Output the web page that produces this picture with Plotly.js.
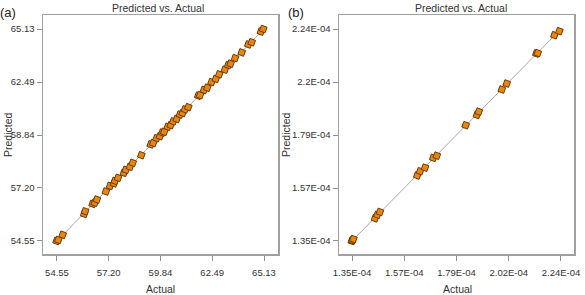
<!DOCTYPE html>
<html>
<head>
<meta charset="utf-8">
<script src="https://cdn.plot.ly/plotly-3.0.1.min.js"></script>
<style>
  html, body { margin: 0; padding: 0; background: #fff; }
  #chart { width: 585px; height: 295px; }
</style>
</head>
<body>
<div id="chart"></div>
<script>
// Panel (a): actual vs predicted response
const actualA = [54.53, 54.62, 54.84, 55.94, 55.99, 56.37, 56.48, 56.59, 57.05, 57.26,
                 57.46, 57.51, 57.67, 57.97, 58.07, 58.28, 58.42, 58.86, 59.34, 59.47,
                 59.64, 59.81, 59.93, 60.03, 60.21, 60.36, 60.49, 60.67, 60.83, 60.97,
                 61.09, 61.26, 61.77, 61.86, 62.06, 62.23, 62.45, 62.67, 62.84, 63.13,
                 63.30, 63.42, 63.65, 63.99, 64.33, 64.50, 64.97, 65.09];
const predictedA = [54.55, 54.60, 54.86, 55.90, 56.03, 56.40, 56.46, 56.62, 57.02, 57.30,
                    57.42, 57.55, 57.70, 57.95, 58.10, 58.25, 58.45, 58.83, 59.37, 59.44,
                    59.68, 59.78, 59.96, 60.00, 60.25, 60.33, 60.52, 60.64, 60.86, 60.94,
                    61.12, 61.23, 61.80, 61.83, 62.09, 62.20, 62.48, 62.64, 62.87, 63.10,
                    63.33, 63.40, 63.68, 63.96, 64.36, 64.47, 65.00, 65.13];
const ticksA = [54.55, 57.195, 59.84, 62.485, 65.13];
const tickTextAx = ["54.55", "57.20", "59.84", "62.49", "65.13"];
const tickTextAy = ["54.55", "57.20", "58.84", "62.49", "65.13"];
const lineA = [54.55, 65.13];

// Panel (b)
const actualB = [1.349e-4, 1.352e-4, 1.356e-4, 1.448e-4, 1.458e-4, 1.469e-4, 1.628e-4,
                 1.640e-4, 1.661e-4, 1.696e-4, 1.711e-4, 1.834e-4, 1.882e-4, 1.890e-4,
                 1.988e-4, 2.009e-4, 2.135e-4, 2.141e-4, 2.212e-4, 2.233e-4];
const predictedB = [1.350e-4, 1.353e-4, 1.358e-4, 1.445e-4, 1.460e-4, 1.472e-4, 1.625e-4,
                    1.643e-4, 1.658e-4, 1.699e-4, 1.708e-4, 1.836e-4, 1.879e-4, 1.893e-4,
                    1.986e-4, 2.011e-4, 2.137e-4, 2.139e-4, 2.214e-4, 2.231e-4];
const ticksB = [1.35e-4, 1.5725e-4, 1.795e-4, 2.0175e-4, 2.24e-4];
const tickTextBx = ["1.35E-04", "1.57E-04", "1.79E-04", "2.02E-04", "2.24E-04"];
const tickTextBy = ["1.35E-04", "1.57E-04", "1.79E-04", "2.2E-04", "2.24E-04"];
const lineB = [1.35e-4, 2.24e-4];

const font = "Liberation Sans, Arial, sans-serif";
const markerStyle = {
  symbol: "square",
  size: 6,
  angle: 20,
  color: "#e8860f",
  line: { color: "#6b3a05", width: 1 }
};
const lineStyle = { color: "#a8a8a8", width: 1 };

const traces = [
  { x: lineA, y: lineA, mode: "lines", line: lineStyle, xaxis: "x", yaxis: "y", hoverinfo: "skip" },
  { x: actualA, y: predictedA, mode: "markers", marker: markerStyle, xaxis: "x", yaxis: "y" },
  { x: lineB, y: lineB, mode: "lines", line: lineStyle, xaxis: "x2", yaxis: "y2", hoverinfo: "skip" },
  { x: actualB, y: predictedB, mode: "markers", marker: markerStyle, xaxis: "x2", yaxis: "y2" }
];

function axis(domain, range, vals, text, anchor, standoff) {
  return {
    domain: domain, range: range, anchor: anchor,
    tickmode: "array", tickvals: vals, ticktext: text,
    ticks: "outside", ticklen: 5, tickcolor: "#909090", tickwidth: 1,
    ticklabelstandoff: standoff,
    showgrid: false, zeroline: false,
    showline: true, mirror: true, linecolor: "#a0a0a0", linewidth: 1.5,
    tickfont: { family: font, size: 9.5, color: "#333" }
  };
}

const yDom = [1 - 254 / 295, 1 - 15 / 295];
const titleFont = { family: font, size: 10.5, color: "#333" };
const layout = {
  width: 585, height: 295,
  margin: { l: 0, r: 0, t: 0, b: 0 },
  paper_bgcolor: "#fff", plot_bgcolor: "#fff",
  showlegend: false,
  xaxis: axis([43 / 585, 278 / 585], [53.835, 65.845], ticksA, tickTextAx, "y", 4),
  yaxis: axis(yDom, [53.90, 65.83], ticksA, tickTextAy, "x", 0),
  xaxis2: axis([339 / 585, 574 / 585], [1.2946e-4, 2.2954e-4], ticksB, tickTextBx, "y2", 4),
  yaxis2: axis(yDom, [1.2954e-4, 2.2988e-4], ticksB, tickTextBy, "x2", 0),
  annotations: [
    { text: "Predicted vs. Actual", xref: "paper", yref: "paper", x: 158 / 585, y: 1 - 8 / 295,
      showarrow: false, xanchor: "center", yanchor: "middle", font: titleFont },
    { text: "Predicted vs. Actual", xref: "paper", yref: "paper", x: 461 / 585, y: 1 - 8 / 295,
      showarrow: false, xanchor: "center", yanchor: "middle", font: titleFont },
    { text: "(a)", xref: "paper", yref: "paper", x: -2 / 585, y: 1 - 12 / 295,
      showarrow: false, xanchor: "left", yanchor: "middle", font: { family: font, size: 13, color: "#222" } },
    { text: "(b)", xref: "paper", yref: "paper", x: 286 / 585, y: 1 - 12 / 295,
      showarrow: false, xanchor: "left", yanchor: "middle", font: { family: font, size: 13, color: "#222" } },
    { text: "Actual", xref: "paper", yref: "paper", x: 160 / 585, y: 1 - 289 / 295,
      showarrow: false, xanchor: "center", yanchor: "middle", font: titleFont },
    { text: "Actual", xref: "paper", yref: "paper", x: 457 / 585, y: 1 - 289 / 295,
      showarrow: false, xanchor: "center", yanchor: "middle", font: titleFont },
    { text: "Predicted", xref: "paper", yref: "paper", x: 0, y: 1 - 135 / 295, textangle: -90,
      showarrow: false, xanchor: "left", yanchor: "middle", font: titleFont },
    { text: "Predicted", xref: "paper", yref: "paper", x: 286 / 585, y: 1 - 135 / 295, textangle: -90,
      showarrow: false, xanchor: "center", yanchor: "middle", font: titleFont }
  ]
};

Plotly.newPlot("chart", traces, layout, { displayModeBar: false, staticPlot: true });
</script>
</body>
</html>
